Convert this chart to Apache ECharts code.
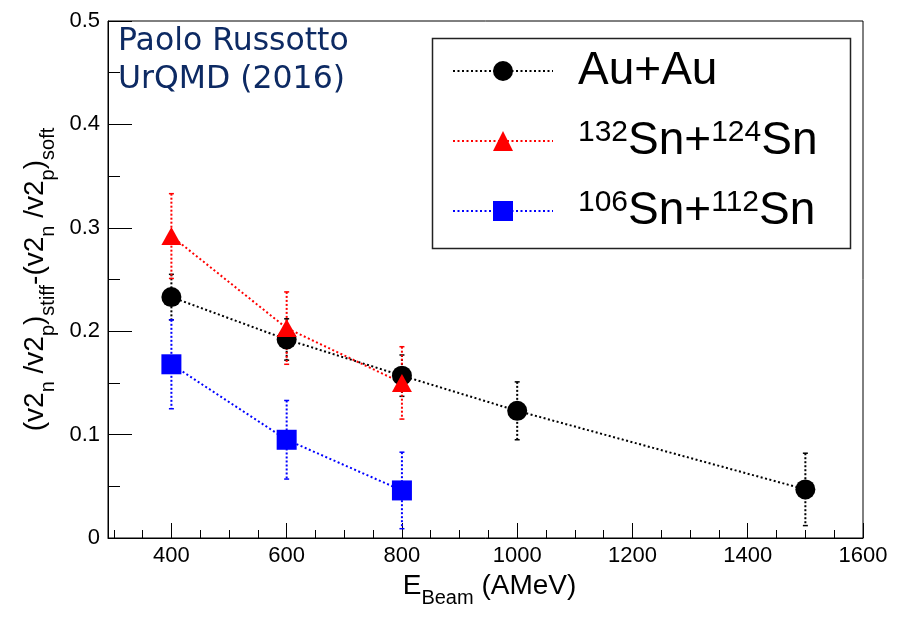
<!DOCTYPE html>
<html>
<head>
<meta charset="utf-8">
<script src="https://cdn.jsdelivr.net/npm/echarts@6/dist/echarts.min.js"></script>
<style>
html,body{margin:0;padding:0;background:#fff;}
#chart{width:923px;height:630px;}
</style>
</head>
<body>
<div id="chart"></div>
<script>
// ---- data ----
var auEnergies = [400, 600, 800, 1000, 1500];
var auValues   = [0.233, 0.192, 0.157, 0.123, 0.047];
var auErrors   = [0.022, 0.020, 0.020, 0.028, 0.035];

var snEnergies = [400, 600, 800];
var sn132Values = [0.292, 0.203, 0.150];
var sn132Errors = [0.041, 0.035, 0.035];
var sn106Values = [0.168, 0.095, 0.046];
var sn106Errors = [0.043, 0.038, 0.037];

var seriesNames = ['Au+Au', '132Sn+124Sn', '106Sn+112Sn'];
var legendTexts = ['{m0|Au+Au}', '{s0|132}{m|Sn+}{s|124}{m|Sn}', '{s0|106}{m|Sn+}{s|112}{m|Sn}'];

var xMajorTicks = [400, 600, 800, 1000, 1200, 1400, 1600];
var xMinorTicks = [300, 350, 450, 500, 550, 650, 700, 750, 850, 900, 950, 1050, 1100, 1150, 1250, 1300, 1350, 1450, 1500, 1550];
var yTicks = [0, 0.1, 0.2, 0.3, 0.4, 0.5];

var titleText = 'Paolo Russotto\nUrQMD (2016)';

// ---- helpers ----
function pairs(xs, ys) { return xs.map(function (x, i) { return [x, ys[i]]; }); }
function triples(xs, ys, es) { return xs.map(function (x, i) { return [x, ys[i], es[i]]; }); }

var FONT = 'Liberation Sans, Arial, Helvetica, sans-serif';

function errSeries(data, color) {
  return {
    type: 'custom',
    xAxisIndex: 0, yAxisIndex: 0,
    z: 1,
    silent: true,
    encode: { x: 0, y: 1 },
    data: data,
    renderItem: function (params, api) {
      var x = api.value(0), y = api.value(1), e = api.value(2);
      var top = api.coord([x, y + e]);
      var bot = api.coord([x, y - e]);
      var st = { stroke: color, lineWidth: 2, lineDash: [2, 2] };
      var cs = { stroke: color, lineWidth: 1.5 };
      return {
        type: 'group',
        children: [
          { type: 'line', shape: { x1: top[0], y1: top[1], x2: bot[0], y2: bot[1] }, style: st },
          { type: 'line', shape: { x1: top[0] - 2.5, y1: top[1], x2: top[0] + 2.5, y2: top[1] }, style: cs },
          { type: 'line', shape: { x1: bot[0] - 2.5, y1: bot[1], x2: bot[0] + 2.5, y2: bot[1] }, style: cs }
        ]
      };
    }
  };
}

function lineSeries(name, data, color, symbol, size) {
  return {
    name: name,
    type: 'line',
    xAxisIndex: 0, yAxisIndex: 0,
    z: 2,
    data: data,
    symbol: symbol,
    symbolSize: size,
    showAllSymbol: true,
    animation: false,
    lineStyle: { color: color, width: 2, type: [2, 2.5] },
    itemStyle: { color: color, borderWidth: 0 }
  };
}

var chart = echarts.init(document.getElementById('chart'), null, { renderer: 'canvas' });

var option = {
  animation: false,
  backgroundColor: '#ffffff',
  title: {
    text: titleText,
    left: 118, top: 23, padding: 0,
    textStyle: { fontFamily: 'DejaVu Sans, Verdana, sans-serif', fontSize: 31.5, fontWeight: 'normal', color: '#0d2a63', lineHeight: 38 }
  },
  grid: { left: 108, right: 60, top: 21, bottom: 92, show: true, borderColor: '#000', borderWidth: 1, backgroundColor: 'transparent' },
  legend: {
    orient: 'vertical',
    left: 452, top: 48, padding: 0,
    itemWidth: 100, itemHeight: 25, itemGap: 24,
    selectedMode: false,
    data: seriesNames,
    formatter: function (name) { return legendTexts[seriesNames.indexOf(name)]; },
    textStyle: {
      fontFamily: FONT, color: '#000',
      rich: {
        m0: { fontFamily: FONT, fontSize: 46, lineHeight: 46, color: '#000', padding: [0, 0, 0, 20] },
        m: { fontFamily: FONT, fontSize: 46, lineHeight: 46, color: '#000' },
        s0: { fontFamily: FONT, fontSize: 30, lineHeight: 16, verticalAlign: 'top', color: '#000', padding: [0, 0, 0, 20] },
        s: { fontFamily: FONT, fontSize: 30, lineHeight: 16, verticalAlign: 'top', color: '#000' }
      }
    }
  },
  graphic: [
    { type: 'rect', left: 430, top: 36, shape: { width: 418, height: 210 }, style: { fill: 'none', stroke: '#222', lineWidth: 1.5 }, z: 0 }
  ],
  xAxis: [
    {
      type: 'value', min: 290, max: 1600, position: 'bottom',
      axisLine: { show: true, lineStyle: { color: '#000', width: 1 } },
      axisTick: { show: true, inside: true, length: 15, customValues: xMajorTicks, lineStyle: { color: '#000', width: 1 } },
      axisLabel: { show: true, customValues: xMajorTicks, fontFamily: FONT, fontSize: 22, color: '#000', margin: 7,
        formatter: function (v) { return String(v); } },
      splitLine: { show: false },
      name: '{m|E}{s|Beam}{m| (AMeV)}',
      nameLocation: 'middle', nameGap: 23,
      nameTextStyle: {
        fontFamily: FONT, color: '#000', padding: [0, 0, 0, 8],
        rich: {
          m: { fontFamily: FONT, fontSize: 28, lineHeight: 46, color: '#000' },
          s: { fontFamily: FONT, fontSize: 20, lineHeight: 24, verticalAlign: 'bottom', color: '#000' }
        }
      }
    },
    {
      type: 'value', min: 290, max: 1600, position: 'bottom',
      axisLine: { show: false },
      axisTick: { show: true, inside: true, length: 8, customValues: xMinorTicks, lineStyle: { color: '#000', width: 1 } },
      axisLabel: { show: false },
      splitLine: { show: false }
    }
  ],
  yAxis: [
    {
      type: 'value', min: 0, max: 0.5, interval: 0.1,
      axisLine: { show: true, lineStyle: { color: '#000', width: 1 } },
      axisTick: { show: true, inside: true, length: 24, lineStyle: { color: '#000', width: 1 } },
      minorTick: { show: true, splitNumber: 2, length: 12, lineStyle: { color: '#000', width: 1 } },
      axisLabel: { fontFamily: FONT, fontSize: 22, color: '#000', margin: 8 },
      splitLine: { show: false },
      name: '{m|(v2}{s|n}{m| /v2}{s|p}{m|)}{s|stiff}{m|-(v2}{s|n}{m| /v2}{s|p}{m|)}{s|soft}',
      nameLocation: 'middle', nameRotate: 90, nameGap: 49,
      nameTextStyle: {
        fontFamily: FONT, color: '#000',
        rich: {
          m: { fontFamily: FONT, fontSize: 28, lineHeight: 46, color: '#000' },
          s: { fontFamily: FONT, fontSize: 20, lineHeight: 14, verticalAlign: 'bottom', color: '#000' }
        }
      }
    }
  ],
  series: [
    errSeries(triples(auEnergies, auValues, auErrors), '#000000'),
    errSeries(triples(snEnergies, sn132Values, sn132Errors), '#ff0000'),
    errSeries(triples(snEnergies, sn106Values, sn106Errors), '#0000ff'),
    lineSeries(seriesNames[0], pairs(auEnergies, auValues), '#000000', 'circle', 20),
    lineSeries(seriesNames[1], pairs(snEnergies, sn132Values), '#ff0000', 'triangle', [20, 18]),
    lineSeries(seriesNames[2], pairs(snEnergies, sn106Values), '#0000ff', 'rect', 20)
  ]
};
chart.setOption(option);
</script>
</body>
</html>
